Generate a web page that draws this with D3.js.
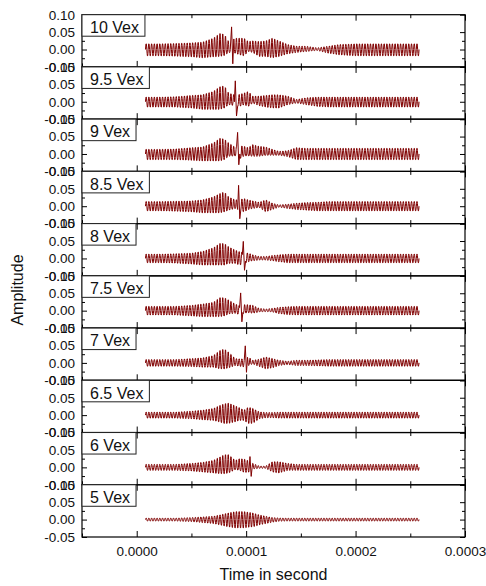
<!DOCTYPE html>
<html>
<head>
<meta charset="utf-8">
<script src="https://cdn.jsdelivr.net/npm/d3@7"></script>
<style>
  body { margin: 0; background: #fff; }
  svg { display: block; font-family: "Liberation Sans", Arial, sans-serif; }
</style>
</head>
<body>
<div class="chart"></div>
<script>
// Excitation level of each trace, top to bottom
var panelLabels = ["10 Vex", "9.5 Vex", "9 Vex", "8.5 Vex", "8 Vex", "7.5 Vex", "7 Vex", "6.5 Vex", "6 Vex", "5 Vex"];

// Envelope knots, in microseconds
var knotTimes = [8, 20, 35, 50, 60, 70, 76, 80, 84, 90, 94, 98, 102, 106, 112, 118, 124, 130, 138, 146, 155, 165, 175, 185, 200, 230, 258];

// Positive-side envelope of each trace at the knots
var upperEnv = [
  [.017, .017, .018, .020, .022, .034, .048, .046, .024, .034, .034, .034, .024, .026, .024, .026, .034, .026, .015, .010, .010, .005, .010, .015, .017, .017, .017],
  [.014, .014, .015, .019, .021, .031, .045, .048, .026, .020, .022, .026, .031, .017, .017, .019, .021, .021, .017, .007, .012, .014, .014, .014, .014, .014, .014],
  [.014, .014, .015, .019, .021, .033, .047, .045, .033, .020, .025, .023, .019, .028, .023, .021, .014, .008, .010, .019, .017, .017, .017, .017, .017, .017, .017],
  [.014, .014, .015, .016, .019, .028, .038, .043, .028, .019, .020, .023, .019, .016, .012, .019, .009, .004, .006, .009, .011, .012, .014, .014, .014, .014, .014],
  [.013, .013, .014, .016, .021, .032, .045, .045, .035, .025, .020, .018, .016, .011, .006, .006, .009, .011, .013, .013, .013, .013, .013, .013, .013, .013, .013],
  [.013, .013, .013, .016, .020, .025, .039, .039, .032, .020, .015, .018, .018, .016, .007, .005, .007, .010, .012, .013, .013, .013, .013, .013, .013, .013, .013],
  [.010, .010, .010, .013, .015, .022, .037, .042, .032, .013, .012, .012, .018, .008, .011, .018, .013, .008, .005, .008, .008, .009, .010, .010, .010, .010, .010],
  [.009, .009, .009, .012, .015, .020, .029, .034, .036, .028, .022, .015, .024, .020, .010, .008, .008, .009, .009, .009, .009, .009, .009, .009, .009, .009, .009],
  [.009, .009, .009, .012, .015, .021, .031, .038, .038, .021, .026, .025, .020, .012, .004, .004, .017, .017, .012, .009, .009, .009, .009, .009, .009, .009, .009],
  [.0045, .0045, .0045, .006, .008, .010, .014, .017, .020, .024, .024, .024, .022, .020, .014, .010, .006, .005, .0045, .0045, .0045, .0045, .0045, .0045, .0045, .0045, .0045]
];

// Negative-side envelope of each trace at the knots
var lowerEnv = [
  [.019, .019, .020, .022, .025, .022, .021, .018, .009, .011, .016, .019, .006, .009, .021, .021, .025, .021, .013, .009, .006, .003, .011, .016, .019, .019, .019],
  [.016, .016, .016, .019, .023, .023, .023, .019, .009, .012, .014, .009, .014, .004, .012, .016, .019, .019, .009, .004, .009, .014, .016, .016, .016, .016, .016],
  [.017, .017, .017, .019, .021, .021, .021, .017, .007, .006, .015, .006, .006, .007, .007, .004, .004, .004, .008, .017, .017, .017, .017, .017, .017, .017, .017],
  [.014, .014, .015, .017, .020, .020, .020, .017, .012, .007, .012, .017, .010, .007, .004, .017, .010, .003, .007, .010, .012, .014, .014, .014, .014, .014, .014],
  [.013, .013, .014, .017, .020, .020, .020, .020, .015, .015, .020, .015, .010, .007, .005, .005, .007, .010, .013, .013, .013, .013, .013, .013, .013, .013, .013],
  [.013, .013, .013, .016, .018, .018, .018, .016, .010, .008, .012, .008, .006, .008, .004, .003, .004, .009, .012, .013, .013, .013, .013, .013, .013, .013, .013],
  [.010, .010, .010, .011, .013, .013, .018, .018, .015, .008, .010, .012, .008, .003, .011, .018, .015, .008, .005, .008, .008, .009, .010, .010, .010, .010, .010],
  [.009, .009, .009, .011, .014, .016, .021, .025, .025, .020, .016, .016, .025, .025, .011, .008, .008, .009, .009, .009, .009, .009, .009, .009, .009, .009, .009],
  [.009, .009, .009, .011, .014, .017, .019, .019, .017, .007, .009, .015, .015, .005, .003, .003, .014, .017, .009, .009, .009, .009, .009, .009, .009, .009, .009],
  [.0045, .0045, .0045, .006, .009, .012, .016, .019, .022, .025, .025, .025, .023, .022, .016, .012, .008, .005, .0045, .0045, .0045, .0045, .0045, .0045, .0045, .0045, .0045]
];

// Sharp arrival in each trace: [time (us), peak, trough depth]
var spikes = [
  [86.7, 0.065, 0.041],
  [90.1, 0.060, 0.041],
  [92.2, 0.062, 0.031],
  [93.1, 0.060, 0.036],
  [97.4, 0.049, 0.034],
  [95.0, 0.051, 0.032],
  [99.2, 0.049, 0.027],
  null,
  [103.5, 0.031, 0.026],
  null
];

var carrierPeriod = 2.5; // us
var xTicks = [0, 0.0001, 0.0002, 0.0003];
var xMinorTicks = [-0.00005, 0.00005, 0.00015, 0.00025];
var yTicks = [-0.05, 0.00, 0.05, 0.10];
var yMinorTicks = [-0.025, 0.025];

var svgWidth = 486;
var svgHeight = 586;
var margin = { top: 14.7, right: 21, bottom: 49, left: 82 };
var width = svgWidth - margin.left - margin.right;
var height = svgHeight - margin.top - margin.bottom;
var panelH = height / panelLabels.length;

var svg = d3.select(".chart")
  .append("svg")
  .attr("width", svgWidth)
  .attr("height", svgHeight);

var chartGroup = svg.append("g")
  .attr("transform", `translate(${margin.left}, ${margin.top})`);

var xScale = d3.scaleLinear().domain([-0.00005, 0.0003]).range([0, width]);
var yScale = d3.scaleLinear().domain([-0.05, 0.10]).range([panelH, 0]);

var line = d3.line()
  .x(d => xScale(d[0] * 1e-6))
  .y(d => yScale(d[1]));

// build one trace: carrier inside the read envelope, plus the arrival spike
function buildTrace(i) {
  var up = d3.scaleLinear().domain(knotTimes).range(upperEnv[i]);
  var lo = d3.scaleLinear().domain(knotTimes).range(lowerEnv[i]);
  var t0 = knotTimes[0];
  var t1 = knotTimes[knotTimes.length - 1];
  var step = carrierPeriod / 10;
  var n = Math.floor((t1 - t0) / step);
  var sp = spikes[i];
  var pts = [];
  for (var k = 0; k <= n; k++) {
    var t = t0 + k * step;
    if (sp && t > sp[0] - 0.8 && t < sp[0] + 2.0) continue;
    var s = Math.sin(2 * Math.PI * (t - t0) / carrierPeriod);
    pts.push([t, s >= 0 ? s * up(t) : s * lo(t)]);
  }
  if (sp) {
    pts.push([sp[0], sp[1]]);
    pts.push([sp[0] + 1.1, -sp[2]]);
    pts.sort((a, b) => a[0] - b[0]);
  }
  return pts;
}

var fmtY = v => d3.format(".2f")(v).replace("\u2212", "-");

function styleAxis(g) {
  g.select(".domain").remove();
  g.selectAll("line").attr("stroke", "#000").attr("stroke-width", 1);
  g.attr("font-family", null).attr("font-size", null);
  g.selectAll("text").attr("fill", "#111").style("font-size", "13.5px");
}

panelLabels.forEach(function (label, i) {
  var last = i === panelLabels.length - 1;
  var panel = chartGroup.append("g")
    .attr("transform", `translate(0, ${i * panelH})`);

  // ticks pointing inward on all four sides
  panel.append("g")
    .attr("transform", `translate(0, ${panelH})`)
    .call(d3.axisBottom(xScale).tickValues(xTicks).tickSize(-6).tickPadding(9)
      .tickFormat(last ? d3.format(".4f") : ""))
    .call(styleAxis);
  panel.append("g")
    .attr("transform", `translate(0, ${panelH})`)
    .call(d3.axisBottom(xScale).tickValues(xMinorTicks).tickSize(-3.5).tickFormat(""))
    .call(styleAxis);
  panel.append("g")
    .call(d3.axisTop(xScale).tickValues(xTicks).tickSize(-6).tickFormat(""))
    .call(styleAxis);
  panel.append("g")
    .call(d3.axisTop(xScale).tickValues(xMinorTicks).tickSize(-3.5).tickFormat(""))
    .call(styleAxis);

  panel.append("g")
    .call(d3.axisLeft(yScale).tickValues(yTicks).tickSize(-5).tickPadding(7).tickFormat(fmtY))
    .call(styleAxis);
  panel.append("g")
    .call(d3.axisLeft(yScale).tickValues(yMinorTicks).tickSize(-3).tickFormat(""))
    .call(styleAxis);
  panel.append("g")
    .attr("transform", `translate(${width}, 0)`)
    .call(d3.axisRight(yScale).tickValues(yTicks).tickSize(-5).tickFormat(""))
    .call(styleAxis);
  panel.append("g")
    .attr("transform", `translate(${width}, 0)`)
    .call(d3.axisRight(yScale).tickValues(yMinorTicks).tickSize(-3).tickFormat(""))
    .call(styleAxis);

  // waveform
  panel.append("path")
    .datum(buildTrace(i))
    .attr("d", line)
    .attr("fill", "none")
    .attr("stroke", "#800000")
    .attr("stroke-width", 1);

  // frame
  panel.append("rect")
    .attr("width", width)
    .attr("height", panelH)
    .attr("fill", "none")
    .attr("stroke", "#000")
    .attr("stroke-width", 1.2);

  // label box
  var box = panel.append("g");
  var boxRect = box.append("rect")
    .attr("x", 0)
    .attr("y", 0)
    .attr("height", 21.5)
    .attr("fill", "#fff")
    .attr("stroke", "#222")
    .attr("stroke-width", 1);
  var boxText = box.append("text")
    .attr("x", 8)
    .attr("y", 18.3)
    .style("font-size", "16px")
    .attr("fill", "#111")
    .text(label);
  boxRect.attr("width", boxText.node().getComputedTextLength() + 14);
});

// axis titles
svg.append("text")
  .attr("transform", `translate(23, 290) rotate(-90)`)
  .attr("text-anchor", "middle")
  .style("font-size", "16px")
  .attr("fill", "#111")
  .text("Amplitude");

svg.append("text")
  .attr("x", margin.left + width / 2)
  .attr("y", 580)
  .attr("text-anchor", "middle")
  .style("font-size", "16px")
  .attr("fill", "#111")
  .text("Time in second");
</script>
</body>
</html>
